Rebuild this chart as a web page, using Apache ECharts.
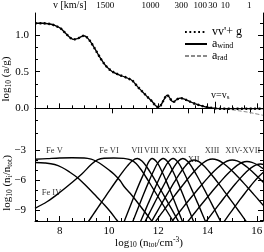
<!DOCTYPE html>
<html><head><meta charset="utf-8">
<script src="https://cdn.jsdelivr.net/npm/echarts@6/dist/echarts.min.js"></script>
<style>html,body{margin:0;padding:0;background:#fff}#c{width:264px;height:252px}</style>
</head><body><div id="c"></div>
<script>
// ---------- data ----------
const xMin = 7, xMax = 16.25;

// top panel: log10 n_tot vs log10 (a/g)
const topX   = [7.0,7.3,7.6,7.8,8.04,8.25,8.44,8.58,8.75,8.98,9.1,9.25,9.45,9.66,9.85,10.06,10.25,10.46,10.7,10.94,11.15,11.35,11.55,11.76,11.9,12.0,12.1,12.2,12.3,12.36,12.45,12.55,12.63,12.75,12.9,13.1,13.3,13.51,13.7,13.91,14.1,14.31,14.6,14.8,15.0,15.3,15.6,15.9,16.25];
const vvgY   = [1.16,1.16,1.15,1.13,1.09,1.02,0.96,0.94,0.955,0.99,0.97,0.91,0.80,0.68,0.59,0.52,0.48,0.45,0.42,0.38,0.30,0.23,0.16,0.09,0.035,0.015,0.04,0.10,0.16,0.18,0.15,0.10,0.09,0.12,0.14,0.12,0.09,0.06,0.04,0.02,0.01,0.0,-0.005,-0.005,-0.005,-0.005,-0.005,-0.005,-0.005];
const aWindY = [1.16,1.16,1.15,1.13,1.09,1.02,0.96,0.94,0.955,0.99,0.97,0.91,0.80,0.68,0.59,0.52,0.48,0.45,0.42,0.38,0.30,0.23,0.16,0.09,0.035,0.015,0.04,0.10,0.16,0.18,0.15,0.10,0.09,0.12,0.14,0.12,0.09,0.06,0.04,0.02,0.01,0.0,-0.005,-0.005,-0.005,-0.005,-0.005,-0.005,-0.005];
const aRadY  = [1.16,1.16,1.15,1.13,1.09,1.02,0.96,0.94,0.955,0.99,0.97,0.91,0.80,0.68,0.59,0.52,0.48,0.45,0.42,0.38,0.30,0.23,0.16,0.09,0.035,0.015,0.04,0.10,0.16,0.18,0.15,0.10,0.09,0.12,0.14,0.12,0.09,0.06,0.04,0.02,0.01,0.0,-0.005,-0.01,-0.02,-0.035,-0.05,-0.07,-0.095];
const sonicX = 14.31, sonicLow = 0.0, sonicHigh = 0.09;

// top axis: velocity
const vPos    = [10.13,11.75,13.22,13.77,14.27,14.78,15.75];
const vLabels = ['1500','1000','300','100','30','10','1'];

// bottom panel: ionisation fractions log10(n_i/n_tot)
const feIV   = [[7.0,-4.25],[7.4,-4.3],[7.8,-4.45],[8.1,-4.75],[8.4,-5.2],[8.74,-5.8],[9.0,-6.4],[9.28,-7.1],[9.55,-7.8],[9.82,-8.5],[10.05,-9.15],[10.3,-9.95],[10.5,-10.6]];
const feV    = [[7.0,-3.92],[7.5,-3.86],[8.0,-3.8],[8.5,-3.78],[9.0,-3.8],[9.28,-3.92],[9.5,-4.15],[9.7,-4.45],[10.0,-5.0],[10.22,-5.44],[10.45,-6.05],[10.63,-6.7],[10.85,-7.3],[11.05,-7.9],[11.3,-8.7],[11.55,-9.5],[11.8,-10.3]];
const feVI   = [[7.0,-8.83],[7.5,-8.15],[8.0,-7.25],[8.5,-6.25],[8.9,-5.4],[9.3,-4.4],[9.55,-3.97],[9.8,-3.83],[10.2,-3.8],[10.6,-3.84],[10.9,-4.0],[11.1,-4.35],[11.3,-4.95],[11.5,-5.7],[11.7,-6.5],[11.9,-7.3],[12.1,-8.1],[12.3,-8.9],[12.5,-9.7],[12.7,-10.5]];
const feVII  = [[9.15,-10.22],[9.35,-9.49],[9.55,-8.76],[9.75,-8.04],[9.95,-7.32],[10.15,-6.6],[10.35,-5.9],[10.55,-5.22],[10.75,-4.59],[10.95,-4.07],[11.15,-3.85],[11.35,-4.12],[11.55,-4.75],[11.75,-5.52],[11.95,-6.35],[12.15,-7.2],[12.35,-8.07],[12.55,-8.94],[12.75,-9.83],[12.95,-10.71]];
const feVIII = [[10.45,-11.21],[10.65,-9.94],[10.85,-8.69],[11.05,-7.45],[11.25,-6.26],[11.45,-5.15],[11.6,-4.24],[11.75,-3.85],[11.95,-4.24],[12.15,-5.15],[12.35,-6.26],[12.55,-7.45],[12.75,-8.69],[12.95,-9.94],[13.15,-11.21]];
const feIX   = [[10.8,-11.21],[11.0,-9.94],[11.2,-8.69],[11.4,-7.45],[11.6,-6.26],[11.8,-5.15],[12.0,-4.24],[12.2,-3.85],[12.4,-4.24],[12.6,-5.15],[12.8,-6.26],[13.0,-7.45],[13.2,-8.69],[13.4,-9.94],[13.6,-11.21]];
const feX    = [[11.2,-10.64],[11.4,-9.47],[11.6,-8.31],[11.8,-7.18],[12.0,-6.08],[12.2,-5.05],[12.4,-4.21],[12.6,-3.85],[12.8,-4.21],[13.0,-5.05],[13.2,-6.08],[13.4,-7.18],[13.6,-8.31],[13.8,-9.47],[14.0,-10.64]];
const feXI   = [[11.4,-10.49],[11.6,-9.51],[11.8,-8.54],[12.0,-7.57],[12.2,-6.62],[12.4,-5.7],[12.6,-4.85],[12.8,-4.15],[13.0,-3.85],[13.2,-4.15],[13.4,-4.85],[13.6,-5.7],[13.8,-6.62],[14.0,-7.57],[14.2,-8.54],[14.4,-9.51],[14.6,-10.49]];
const feXII  = [[11.65,-10.5],[11.85,-9.62],[12.05,-8.75],[12.25,-7.89],[12.45,-7.05],[12.65,-6.22],[12.85,-5.44],[13.05,-4.75],[13.25,-4.21],[13.45,-4.0],[13.65,-4.17],[13.85,-4.58],[14.05,-5.12],[14.25,-5.73],[14.45,-6.37],[14.65,-7.03],[14.85,-7.7],[15.05,-8.37],[15.25,-9.05],[15.45,-9.74],[15.65,-10.43]];
const feXIII = [[11.8,-10.46],[12.0,-9.78],[12.2,-9.11],[12.4,-8.44],[12.6,-7.78],[12.8,-7.13],[13.0,-6.5],[13.2,-5.88],[13.4,-5.3],[13.6,-4.77],[13.8,-4.32],[14.0,-4.01],[14.2,-3.9],[14.4,-4.0],[14.6,-4.26],[14.8,-4.65],[15.0,-5.1],[15.2,-5.6],[15.4,-6.12],[15.6,-6.67],[15.8,-7.23],[16.0,-7.79],[16.2,-8.36],[16.4,-8.94]];
const feXIV  = [[12.4,-10.62],[12.6,-10.0],[12.8,-9.38],[13.0,-8.76],[13.2,-8.15],[13.4,-7.55],[13.6,-6.95],[13.8,-6.37],[14.0,-5.81],[14.2,-5.28],[14.4,-4.8],[14.6,-4.39],[14.8,-4.1],[15.0,-4.0],[15.2,-4.09],[15.4,-4.34],[15.6,-4.7],[15.8,-5.12],[16.0,-5.59],[16.2,-6.08],[16.4,-6.59]];
const feXV   = [[13.0,-10.77],[13.2,-10.15],[13.4,-9.53],[13.6,-8.91],[13.8,-8.3],[14.0,-7.7],[14.2,-7.1],[14.4,-6.52],[14.6,-5.96],[14.8,-5.43],[15.0,-4.95],[15.2,-4.54],[15.4,-4.25],[15.6,-4.15],[15.8,-4.23],[16.0,-4.45],[16.2,-4.77],[16.4,-5.15]];
const feXVI  = [[13.75,-10.77],[13.95,-10.11],[14.15,-9.46],[14.35,-8.81],[14.55,-8.17],[14.75,-7.54],[14.95,-6.92],[15.15,-6.33],[15.35,-5.76],[15.55,-5.25],[15.75,-4.81],[15.95,-4.51],[16.15,-4.4],[16.35,-4.51]];
const feXVII = [[14.5,-10.75],[14.7,-10.06],[14.9,-9.37],[15.1,-8.69],[15.3,-8.02],[15.5,-7.37],[15.7,-6.74],[15.9,-6.14],[16.1,-5.6],[16.3,-5.14]];
const ionCurves = [feIV,feV,feVI,feVII,feVIII,feIX,feX,feXI,feXII,feXIII,feXIV,feXV,feXVI,feXVII];

// ion labels
const ionLabels = ['Fe IV','Fe V','Fe VI','VII','VIII','IX','X','XI','XII','XIII','XIV-XVII'];
const ionLabelX = [7.67,7.79,10.0,11.14,11.72,12.29,12.67,12.96,13.44,14.18,15.43];
const ionLabelY = [-7.3,-3.1,-3.1,-3.1,-3.1,-3.1,-3.1,-3.1,-3.93,-3.1,-3.1];

// ticks
const xMajor = [8,10,12,14,16];
const topYLabels = [0, 0.5, 1.0];
const botYLabels = [-9, -6, -3];

// ---------- chart ----------
const FONT = 'Liberation Serif';
const xMinor = []; for (let v = 7; v <= 16.01; v += 0.5) if (xMajor.indexOf(v) < 0) xMinor.push(v);
const topYMinor = []; for (let k = -2; k <= 7; k++) { const v = k / 6; if (k % 3 !== 0) topYMinor.push(v); }
const botYMinor = [-10,-8,-7,-5,-4];

const rich = {
  b: {fontFamily: FONT, fontSize: 11, color: '#000'},
  s: {fontFamily: FONT, fontSize: 7.5, color: '#000', padding: [5,0,0,0]},
  p: {fontFamily: FONT, fontSize: 7.5, color: '#000', padding: [0,0,6,0]}
};
const black = {color: '#000', width: 1};

function xAx(grid, pos, ticks, len, extra) {
  return Object.assign({
    type: 'value', gridIndex: grid, min: xMin, max: xMax, position: pos,
    axisLine: {show: true, lineStyle: black},
    axisTick: {show: true, inside: true, length: len, customValues: ticks, lineStyle: black},
    axisLabel: {show: false}, splitLine: {show: false}
  }, extra || {});
}
function yAx(grid, pos, mn, mx, ticks, len, extra) {
  return Object.assign({
    type: 'value', gridIndex: grid, min: mn, max: mx, position: pos,
    axisLine: {show: true, lineStyle: black},
    axisTick: {show: true, inside: true, length: len, customValues: ticks, lineStyle: black},
    axisLabel: {show: false}, splitLine: {show: false}
  }, extra || {});
}

const zip = (xs, ys) => xs.map((x, i) => [x, ys[i]]);
const chart = echarts.init(document.getElementById('c'), null, {renderer: 'canvas'});

const ionSeries = ionCurves.map((d, i) => ({
  type: 'line', xAxisIndex: 3, yAxisIndex: 4, data: d, symbol: 'none', smooth: 0.35,
  lineStyle: {color: '#000', width: 1.4}, silent: true, z: 2
}));

const noSym = {opacity: 0, color: 'rgba(0,0,0,0)', borderWidth: 0};

chart.setOption({
  animation: false,
  backgroundColor: '#fff',
  grid: [
    {left: 35, right: 1, top: 13, height: 132, outerBoundsMode: 'none', containLabel: false},
    {left: 35, right: 1, top: 145, height: 76, outerBoundsMode: 'none', containLabel: false}
  ],
  xAxis: [
    xAx(0, 'bottom', xMajor, 5),
    xAx(0, 'bottom', xMinor, 3, {axisLine: {show: false}}),
    xAx(0, 'top', vPos, 5, {
      axisLabel: {show: true, customValues: vPos, margin: 3, fontFamily: FONT, fontSize: 9, color: '#000',
        formatter: function (val) {
          let bi = 0, bd = 1e9;
          vPos.forEach((p, i) => { const d = Math.abs(p - val); if (d < bd) { bd = d; bi = i; } });
          return '{' + ((bi === 0 || bi === 2) ? 'w' : 'n') + '|' + vLabels[bi] + '}';
        },
        rich: {w: {fontFamily: FONT, fontSize: 9, color: '#000', padding: [0,14,0,0]},
               n: {fontFamily: FONT, fontSize: 9, color: '#000', padding: [0,3,0,0]}}}
    }),
    xAx(1, 'bottom', xMajor, 5, {
      axisLabel: {show: true, customValues: xMajor, margin: 5, fontFamily: FONT, fontSize: 11, color: '#000'},
      name: '{b|log}{s|10}{b| (n}{s|tot}{b|/cm}{p|-3}{b|)}', nameLocation: 'middle', nameGap: 15,
      nameMoveOverlap: false, nameTextStyle: {rich: rich}
    }),
    xAx(1, 'bottom', xMinor, 3, {axisLine: {show: false}})
  ],
  yAxis: [
    yAx(0, 'left', -0.5, 1.3, topYLabels, 5, {
      axisLabel: {show: true, customValues: topYLabels, margin: 6, fontFamily: FONT, fontSize: 11, color: '#000',
        formatter: v => v.toFixed(1)},
      name: '{b|log}{s|10}{b| (a/g)}', nameLocation: 'middle', nameGap: 22, nameRotate: 90,
      nameMoveOverlap: false, nameTextStyle: {rich: rich}
    }),
    yAx(0, 'left', -0.5, 1.3, topYMinor, 3, {axisLine: {show: false}}),
    yAx(0, 'right', -0.5, 1.3, topYLabels, 5),
    yAx(0, 'right', -0.5, 1.3, topYMinor, 3, {axisLine: {show: false}}),
    yAx(1, 'left', -10.1, -2.5, botYLabels, 5, {
      axisLabel: {show: true, customValues: botYLabels, margin: 9, fontFamily: FONT, fontSize: 11, color: '#000',
        formatter: v => '\u2212' + Math.abs(v)},
      name: '{b|log}{s|10}{b| (n}{s|i}{b|/n}{s|tot}{b|)}', nameLocation: 'middle', nameGap: 21, nameRotate: 90,
      nameMoveOverlap: false, nameTextStyle: {rich: rich}
    }),
    yAx(1, 'left', -10.1, -2.5, botYMinor, 3, {axisLine: {show: false}}),
    yAx(1, 'right', -10.1, -2.5, botYLabels, 5),
    yAx(1, 'right', -10.1, -2.5, botYMinor, 3, {axisLine: {show: false}})
  ],
  legend: {
    left: 179, top: 21, orient: 'vertical', itemWidth: 22, itemHeight: 6, itemGap: 0,
    data: ['vvg', 'awind', 'arad'], selectedMode: false,
    itemStyle: noSym,
    formatter: function (n) {
      if (n === 'vvg') return "{b|vv'+ g}";
      if (n === 'awind') return '{b|a}{s|wind}';
      return '{b|a}{s|rad}';
    },
    textStyle: {fontFamily: FONT, fontSize: 12, color: '#000', lineHeight: 10, rich: {
      b: {fontFamily: FONT, fontSize: 12, color: '#000', lineHeight: 10},
      s: {fontFamily: FONT, fontSize: 8, color: '#000', padding: [3,0,0,0], lineHeight: 8}
    }}
  },
  graphic: [{
    type: 'text', left: 53, top: 0,
    style: {text: 'v [km/s]', fontFamily: FONT, fontSize: 10, fill: '#000'}
  }],
  series: [
    {name: 'arad', type: 'line', xAxisIndex: 0, yAxisIndex: 0, data: zip(topX, aRadY), symbol: 'none', smooth: 0.3,
     lineStyle: {color: '#8a8a8a', width: 1, type: [4, 2]}, itemStyle: noSym, z: 2},
    {name: 'awind', type: 'line', xAxisIndex: 0, yAxisIndex: 0, data: zip(topX, aWindY), symbol: 'none', smooth: 0.3,
     lineStyle: {color: '#000', width: 1.3}, itemStyle: noSym, z: 3,
     markLine: {symbol: ['none', 'none'], silent: true, animation: false,
       lineStyle: {color: '#000', width: 1, type: 'solid'},
       label: {show: true, position: 'end', distance: 1, formatter: '{a|v=v}{s|s}',
         rich: {a: {fontFamily: FONT, fontSize: 10, color: '#000', padding: [0,0,0,10]},
                s: {fontFamily: FONT, fontSize: 7, color: '#000', padding: [4,0,0,0]}}},
       data: [[{coord: [sonicX, sonicLow]}, {coord: [sonicX, sonicHigh]}]]}},
    {name: 'vvg', type: 'line', xAxisIndex: 0, yAxisIndex: 0, data: zip(topX, vvgY), symbol: 'none', smooth: 0.3,
     lineStyle: {color: '#000', width: 2.4, type: [1.8, 2.6]}, itemStyle: noSym, z: 4},
    ...ionSeries,
    {type: 'scatter', xAxisIndex: 3, yAxisIndex: 4, symbolSize: 0, silent: true, z: 5,
     data: ionLabels.map((t, i) => ({name: t, value: [ionLabelX[i], ionLabelY[i]]})),
     label: {show: true, position: 'inside', formatter: p => p.name, fontFamily: FONT, fontSize: 8.5, color: '#000'}}
  ]
});
</script></body></html>
